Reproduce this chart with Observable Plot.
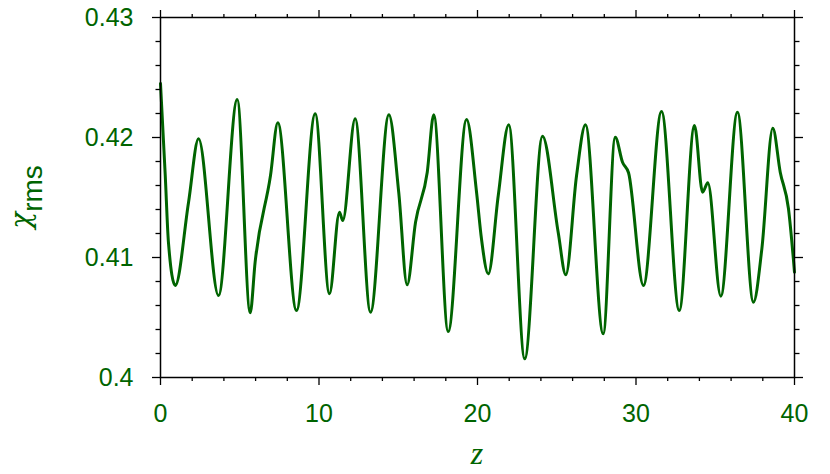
<!DOCTYPE html>
<html>
<head>
<meta charset="utf-8">
<script src="https://cdn.jsdelivr.net/npm/d3@7"></script>
<script src="https://cdn.jsdelivr.net/npm/@observablehq/plot@0.6"></script>
<style>
  html, body { margin: 0; padding: 0; background: #fff; }
  #chart svg { display: block; }
</style>
</head>
<body>
<div id="chart"></div>
<script>
// z positions of the curve's key points
const zValues = [
  0.00, 0.30, 0.50, 0.93, 1.77, 2.40, 3.66, 4.84, 5.66, 5.97,
  6.94, 7.40, 8.58, 9.76, 10.66, 11.29, 11.50, 12.28, 13.25, 14.41,
  15.03, 15.56, 16.09, 16.83, 17.24, 18.15, 19.31, 19.94, 20.25, 20.68,
  21.31, 21.97, 22.98, 24.10, 25.09, 25.57, 26.25, 26.81, 27.93, 28.69,
  29.15, 29.53, 30.47, 31.61, 32.73, 33.69, 34.20, 34.53, 35.35, 36.40,
  37.41, 37.94, 38.63, 39.10, 39.62, 40.00
];
// x_rms values at those points
const xrmsValues = [
  0.42450, 0.41683, 0.41128, 0.40767, 0.41461, 0.41989, 0.40683, 0.42317, 0.40539, 0.40961,
  0.41683, 0.42122, 0.40558, 0.42197, 0.40697, 0.41378, 0.41308, 0.42156, 0.40544, 0.42189,
  0.41544, 0.40772, 0.41294, 0.41711, 0.42189, 0.40383, 0.42150, 0.41544, 0.41156, 0.40864,
  0.41517, 0.42106, 0.40156, 0.42011, 0.41211, 0.40856, 0.41683, 0.42106, 0.40364, 0.42003,
  0.41794, 0.41706, 0.40767, 0.42217, 0.40558, 0.42100, 0.41544, 0.41622, 0.40678, 0.42211,
  0.40628, 0.41072, 0.42078, 0.41711, 0.41406, 0.40878
];
const xMajor = [0, 10, 20, 30, 40];
const xMinor = [2, 4, 6, 8, 12, 14, 16, 18, 22, 24, 26, 28, 32, 34, 36, 38];
const yMajor = [0.40, 0.41, 0.42, 0.43];
const yMajorLabels = ["0.4", "0.41", "0.42", "0.43"];
const yMinor = [0.402, 0.404, 0.406, 0.408, 0.412, 0.414, 0.416, 0.418, 0.422, 0.424, 0.426, 0.428];

const data = zValues.map((z, i) => ({z, v: xrmsValues[i]}));
const green = "#006400";
const font = "'Liberation Sans', Arial, Helvetica, sans-serif";

const plot = Plot.plot({
  width: 830,
  height: 474,
  marginLeft: 160,
  marginRight: 36,
  marginTop: 17,
  marginBottom: 97,
  style: {background: "#fff", fontFamily: font},
  x: {domain: [0, 40], label: null},
  y: {domain: [0.40, 0.43], label: null},
  marks: [
    Plot.line(data, {x: "z", y: "v", stroke: green, strokeWidth: 3, curve: "monotone-x"}),
    Plot.frame({stroke: "black", strokeWidth: 1.5}),
    // ticks (outward, all four sides)
    Plot.axisX({ticks: xMajor, anchor: "bottom", tickSize: 8, text: null, label: null, stroke: "black", strokeWidth: 1.3}),
    Plot.axisX({ticks: xMinor, anchor: "bottom", tickSize: 4, text: null, label: null, stroke: "black", strokeWidth: 1.3}),
    Plot.axisX({ticks: xMajor, anchor: "top", tickSize: 8, text: null, label: null, stroke: "black", strokeWidth: 1.3}),
    Plot.axisX({ticks: xMinor, anchor: "top", tickSize: 4, text: null, label: null, stroke: "black", strokeWidth: 1.3}),
    Plot.axisY({ticks: yMajor, anchor: "left", tickSize: 8, text: null, label: null, stroke: "black", strokeWidth: 1.3}),
    Plot.axisY({ticks: yMinor, anchor: "left", tickSize: 4.5, text: null, label: null, stroke: "black", strokeWidth: 1.3}),
    Plot.axisY({ticks: yMajor, anchor: "right", tickSize: 8, text: null, label: null, stroke: "black", strokeWidth: 1.3}),
    Plot.axisY({ticks: yMinor, anchor: "right", tickSize: 4.5, text: null, label: null, stroke: "black", strokeWidth: 1.3}),
    // tick labels
    Plot.axisX({ticks: xMajor, anchor: "bottom", tickSize: 0, tickPadding: 27, label: null,
      tickFormat: d => String(d), fill: green, fontSize: 25, fontFamily: font}),
    Plot.axisY({ticks: yMajor, anchor: "left", tickSize: 0, tickPadding: 27, label: null,
      tickFormat: (d, i) => yMajorLabels[yMajor.indexOf(d)], fill: green, fontSize: 25, fontFamily: font})
  ]
});

const svg = d3.select(plot);
// y-axis title: chi with subscript rms
const yl = svg.append("text")
  .attr("transform", "translate(30,197) rotate(-90)")
  .attr("text-anchor", "middle")
  .attr("fill", green);
yl.append("tspan")
  .attr("font-family", "'DejaVu Serif', 'Liberation Serif', serif")
  .attr("font-style", "italic")
  .attr("font-size", 28)
  .text("χ");
yl.append("tspan")
  .attr("font-family", font)
  .attr("font-size", 28)
  .attr("dy", 12)
  .text("rms");
// x-axis title
svg.append("text")
  .attr("x", 477)
  .attr("y", 464)
  .attr("text-anchor", "middle")
  .attr("fill", green)
  .attr("font-family", "'Liberation Serif', 'Times New Roman', serif")
  .attr("font-style", "italic")
  .attr("font-size", 32)
  .text("z");

document.getElementById("chart").appendChild(plot);
</script>
</body>
</html>
